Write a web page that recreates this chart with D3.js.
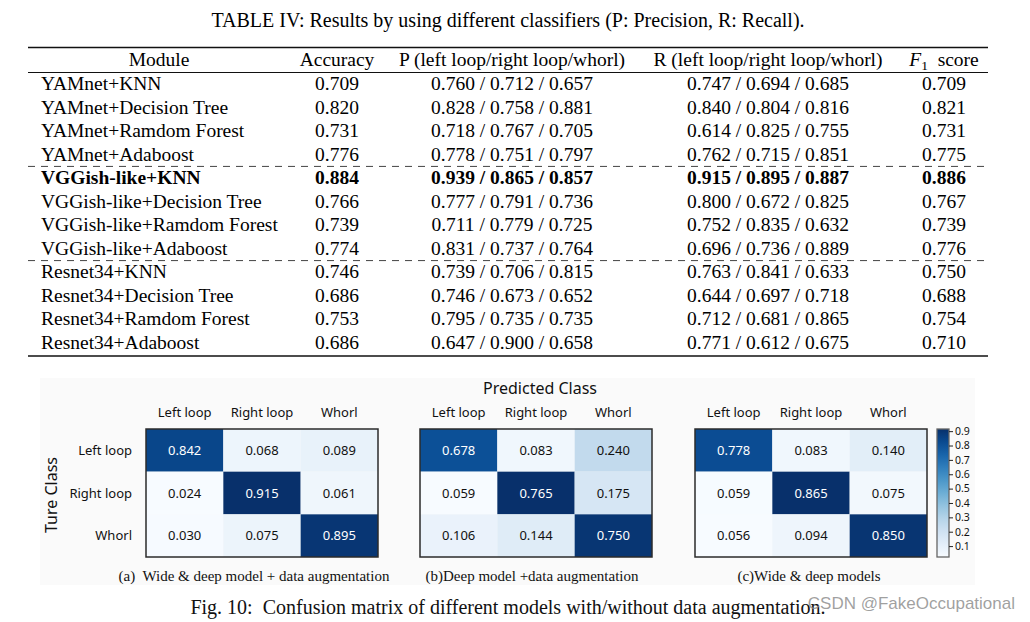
<!DOCTYPE html>
<html><head><meta charset="utf-8">
<script src="https://cdn.jsdelivr.net/npm/d3@7"></script>
<style>
html,body{margin:0;padding:0;background:#fff;}
svg{display:block;}
text{white-space:pre;}
</style></head>
<body>
<svg id="c" width="1030" height="622"></svg>
<script>
// ---------- TABLE DATA ----------
const tableTitle = "TABLE IV: Results by using different classifiers (P: Precision, R: Recall).";
const headers = ["Module", "Accuracy", "P (left loop/right loop/whorl)", "R (left loop/right loop/whorl)", "F1 score"];
const modules = [
  "YAMnet+KNN", "YAMnet+Decision Tree", "YAMnet+Ramdom Forest", "YAMnet+Adaboost",
  "VGGish-like+KNN", "VGGish-like+Decision Tree", "VGGish-like+Ramdom Forest", "VGGish-like+Adaboost",
  "Resnet34+KNN", "Resnet34+Decision Tree", "Resnet34+Ramdom Forest", "Resnet34+Adaboost"
];
const accuracy = [0.709, 0.820, 0.731, 0.776, 0.884, 0.766, 0.739, 0.774, 0.746, 0.686, 0.753, 0.686];
const precision = [
  [0.760, 0.712, 0.657], [0.828, 0.758, 0.881], [0.718, 0.767, 0.705], [0.778, 0.751, 0.797],
  [0.939, 0.865, 0.857], [0.777, 0.791, 0.736], [0.711, 0.779, 0.725], [0.831, 0.737, 0.764],
  [0.739, 0.706, 0.815], [0.746, 0.673, 0.652], [0.795, 0.735, 0.735], [0.647, 0.900, 0.658]
];
const recall = [
  [0.747, 0.694, 0.685], [0.840, 0.804, 0.816], [0.614, 0.825, 0.755], [0.762, 0.715, 0.851],
  [0.915, 0.895, 0.887], [0.800, 0.672, 0.825], [0.752, 0.835, 0.632], [0.696, 0.736, 0.889],
  [0.763, 0.841, 0.633], [0.644, 0.697, 0.718], [0.712, 0.681, 0.865], [0.771, 0.612, 0.675]
];
const f1 = [0.709, 0.821, 0.731, 0.775, 0.886, 0.767, 0.739, 0.776, 0.750, 0.688, 0.754, 0.710];
const boldRows = [4];
const groupBreaks = [4, 8]; // dashed line before these row indices

// ---------- CONFUSION MATRIX DATA ----------
const classes = ["Left loop", "Right loop", "Whorl"];
const cmA = [[0.842, 0.068, 0.089], [0.024, 0.915, 0.061], [0.030, 0.075, 0.895]];
const cmB = [[0.678, 0.083, 0.240], [0.059, 0.765, 0.175], [0.106, 0.144, 0.750]];
const cmC = [[0.778, 0.083, 0.140], [0.059, 0.865, 0.075], [0.056, 0.094, 0.850]];
const subCaptions = ["(a)  Wide & deep model + data augmentation", "(b)Deep model +data augmentation", "(c)Wide & deep models"];
const colorbarTicks = [0.1, 0.2, 0.3, 0.4, 0.5, 0.6, 0.7, 0.8, 0.9];
const figCaption = "Fig. 10:  Confusion matrix of different models with/without data augmentation.";
const watermark = "CSDN @FakeOccupational";

const svg = d3.select("#c");
const serif = "'Liberation Serif','Times New Roman',serif";
const sans = "'Noto Sans','Open Sans',sans-serif";
const fmt = d3.format(".3f");

// ---------- TABLE ----------
svg.append("text").attr("x", 508).attr("y", 27).attr("text-anchor", "middle")
  .attr("font-family", serif).attr("font-size", 20).text(tableTitle);

const tX0 = 28, tX1 = 988;
const colX = [159, 337, 512, 768, 944];
const rowY = d3.scaleLinear().domain([0, modules.length - 1]).range([90, 349]);
const tfs = 19.5;

svg.append("line").attr("x1", tX0).attr("x2", tX1).attr("y1", 47.5).attr("y2", 47.5).attr("stroke", "#111").attr("stroke-width", 1.3);
svg.append("line").attr("x1", tX0).attr("x2", tX1).attr("y1", 72.5).attr("y2", 72.5).attr("stroke", "#111").attr("stroke-width", 1);
svg.append("line").attr("x1", tX0).attr("x2", tX1).attr("y1", 356).attr("y2", 356).attr("stroke", "#111").attr("stroke-width", 1.3);

const hdr = svg.append("g").attr("font-family", serif).attr("font-size", tfs).attr("text-anchor", "middle");
headers.forEach((h, i) => {
  const t = hdr.append("text").attr("x", colX[i]).attr("y", 66);
  if (h.startsWith("F1")) {
    t.append("tspan").attr("font-style", "italic").text("F");
    t.append("tspan").attr("font-size", 13.5).attr("dy", 4).text("1");
    t.append("tspan").attr("dy", -4).text("\u2002score");
  } else t.text(h);
});

groupBreaks.forEach(b => {
  const y = (rowY(b - 1) + rowY(b)) / 2 - 6;
  svg.append("line").attr("x1", tX0).attr("x2", tX1).attr("y1", y).attr("y2", y)
    .attr("stroke", "#444").attr("stroke-width", 1).attr("stroke-dasharray", "7,6");
});

const body = svg.append("g").attr("font-family", serif).attr("font-size", tfs);
modules.forEach((m, i) => {
  const y = rowY(i);
  const fw = boldRows.includes(i) ? "bold" : "normal";
  body.append("text").attr("x", 41).attr("y", y).attr("font-weight", fw).text(m);
  body.append("text").attr("x", colX[1]).attr("y", y).attr("text-anchor", "middle").attr("font-weight", fw).text(fmt(accuracy[i]));
  body.append("text").attr("x", colX[2]).attr("y", y).attr("text-anchor", "middle").attr("font-weight", fw).text(precision[i].map(fmt).join(" / "));
  body.append("text").attr("x", colX[3]).attr("y", y).attr("text-anchor", "middle").attr("font-weight", fw).text(recall[i].map(fmt).join(" / "));
  body.append("text").attr("x", colX[4]).attr("y", y).attr("text-anchor", "middle").attr("font-weight", fw).text(fmt(f1[i]));
});

// ---------- FIGURE ----------
svg.append("rect").attr("x", 40).attr("y", 378).attr("width", 935).attr("height", 207).attr("fill", "#fafafa");

svg.append("text").attr("x", 540).attr("y", 394).attr("text-anchor", "middle")
  .attr("font-family", sans).attr("font-size", 16).attr("fill", "#111").text("Predicted Class");
svg.append("text").attr("transform", "translate(57,495) rotate(-90)").attr("text-anchor", "middle")
  .attr("font-family", sans).attr("font-size", 16).attr("fill", "#111").text("Ture Class");

const hmTop = 429, hmBottom = 557, hmW = 232;
const hmLefts = [146, 420, 695];
const mats = [cmA, cmB, cmC];
const capX = [254, 532, 809];

mats.forEach((mat, k) => {
  const x = d3.scaleBand().domain(classes).range([hmLefts[k], hmLefts[k] + hmW]);
  const y = d3.scaleBand().domain(classes).range([hmTop, hmBottom]);
  const flat = mat.flat();
  const color = d3.scaleSequential(d3.interpolateBlues).domain([d3.min(flat), d3.max(flat)]);
  const g = svg.append("g");
  const cells = [];
  mat.forEach((row, r) => row.forEach((v, c) => cells.push({ r: classes[r], c: classes[c], v })));
  g.selectAll("rect.cell").data(cells).join("rect").attr("class", "cell")
    .attr("x", d => x(d.c)).attr("y", d => y(d.r))
    .attr("width", x.bandwidth()).attr("height", y.bandwidth())
    .attr("fill", d => color(d.v));
  g.selectAll("text.val").data(cells).join("text").attr("class", "val")
    .attr("x", d => x(d.c) + x.bandwidth() / 2).attr("y", d => y(d.r) + y.bandwidth() / 2)
    .attr("dy", "0.35em").attr("text-anchor", "middle")
    .attr("font-family", sans).attr("font-size", 13)
    .attr("fill", d => (d.v - color.domain()[0]) / (color.domain()[1] - color.domain()[0]) > 0.5 ? "#fff" : "#111")
    .text(d => fmt(d.v));
  g.append("rect").attr("x", hmLefts[k]).attr("y", hmTop).attr("width", hmW).attr("height", hmBottom - hmTop)
    .attr("fill", "none").attr("stroke", "#2b2b2b").attr("stroke-width", 1.5);
  g.selectAll("text.col").data(classes).join("text").attr("class", "col")
    .attr("x", d => x(d) + x.bandwidth() / 2).attr("y", 417).attr("text-anchor", "middle")
    .attr("font-family", sans).attr("font-size", 13).attr("fill", "#111").text(d => d);
  if (k === 0) {
    g.selectAll("text.row").data(classes).join("text").attr("class", "row")
      .attr("x", 132).attr("y", d => y(d) + y.bandwidth() / 2).attr("dy", "0.35em").attr("text-anchor", "end")
      .attr("font-family", sans).attr("font-size", 13).attr("fill", "#111").text(d => d);
  }
  svg.append("text").attr("x", capX[k]).attr("y", 581).attr("text-anchor", "middle")
    .attr("font-family", serif).attr("font-size", 15).attr("fill", "#111").text(subCaptions[k]);
});

// colorbar
const allA = cmA.flat();
const cb = d3.scaleLinear().domain([d3.min(allA), d3.max(allA)]).range([hmBottom, hmTop]);
const defs = svg.append("defs");
const grad = defs.append("linearGradient").attr("id", "cbg").attr("x1", 0).attr("x2", 0).attr("y1", 1).attr("y2", 0);
d3.range(0, 1.0001, 0.1).forEach(t => grad.append("stop").attr("offset", t).attr("stop-color", d3.interpolateBlues(t)));
svg.append("rect").attr("x", 937).attr("y", hmTop).attr("width", 12).attr("height", hmBottom - hmTop)
  .attr("fill", "url(#cbg)").attr("stroke", "#666").attr("stroke-width", 1.3);
const ax = svg.append("g").attr("transform", "translate(949,0)")
  .call(d3.axisRight(cb).tickValues(colorbarTicks).tickSize(4).tickPadding(2).tickFormat(d3.format(".1f")));
ax.select(".domain").remove();
ax.selectAll("text").attr("font-family", sans).attr("font-size", 10.5).attr("fill", "#111");
ax.selectAll("line").attr("stroke", "#222");

svg.append("text").attr("x", 508).attr("y", 614).attr("text-anchor", "middle")
  .attr("font-family", serif).attr("font-size", 20).attr("fill", "#111").text(figCaption);
svg.append("text").attr("x", 1015).attr("y", 609).attr("text-anchor", "end")
  .attr("font-family", "'Liberation Sans',Arial,sans-serif").attr("font-size", 17)
  .attr("fill", "#8f8f8f").attr("fill-opacity", 0.85).text(watermark);
</script>
</body></html>
